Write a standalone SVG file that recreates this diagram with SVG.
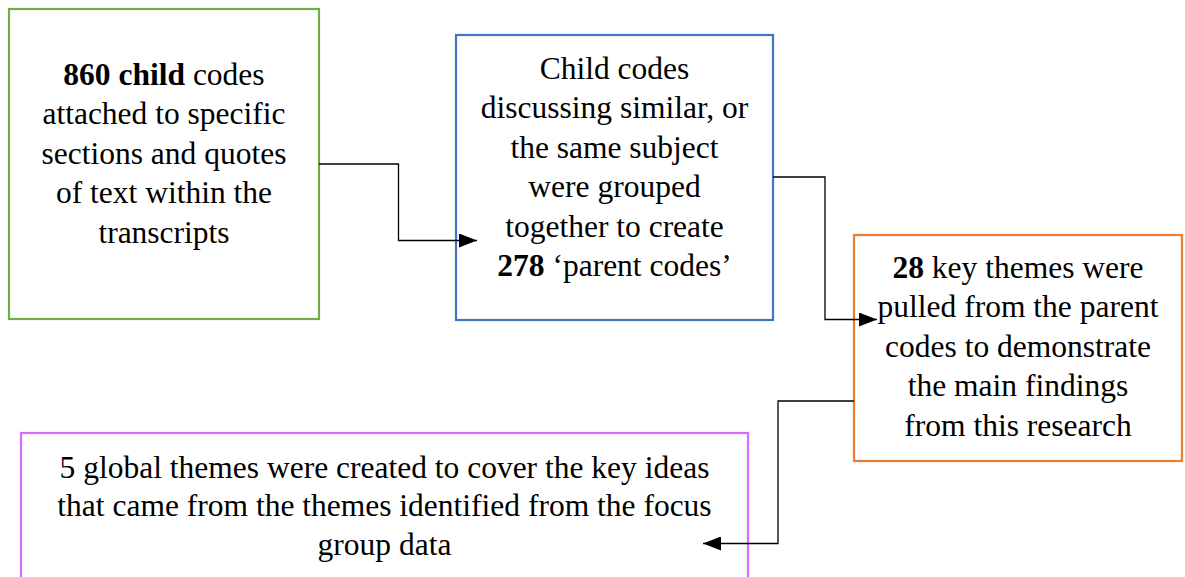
<svg xmlns="http://www.w3.org/2000/svg" width="1185" height="577" viewBox="0 0 1185 577">
  <style>
    .box { fill: #ffffff; stroke-width: 2.2; }
    .t { font-size: 31.5px; fill: #000000; text-anchor: middle; }
    .b { font-weight: bold; }
    .link { fill: none; stroke: #000000; stroke-width: 1.3; }
  </style>
  <defs>
    <marker id="arrow" viewBox="0 0 18 14" refX="18" refY="7" markerWidth="18" markerHeight="14" markerUnits="userSpaceOnUse" orient="auto">
      <path d="M0,0 L18,7 L0,14 z" fill="#000000"/>
    </marker>
  </defs>
  <rect width="1185" height="577" fill="#ffffff"/>

  <g id="node-child-codes">
    <rect class="box" x="9" y="9" width="310" height="310" stroke="#70AD47"/>
    <text class="t" font-family="'Liberation Serif', serif" x="164" y="85"><tspan class="b">860 child</tspan> codes</text>
    <text class="t" font-family="'Liberation Serif', serif" x="164" y="124">attached to specific</text>
    <text class="t" font-family="'Liberation Serif', serif" x="164" y="164">sections and quotes</text>
    <text class="t" font-family="'Liberation Serif', serif" x="164" y="203">of text within the</text>
    <text class="t" font-family="'Liberation Serif', serif" x="164" y="243">transcripts</text>
  </g>

  <g id="node-parent-codes">
    <rect class="box" x="456" y="35" width="317" height="285" stroke="#4472C4"/>
    <text class="t" font-family="'Liberation Serif', serif" x="614.5" y="79">Child codes</text>
    <text class="t" font-family="'Liberation Serif', serif" x="614.5" y="118">discussing similar, or</text>
    <text class="t" font-family="'Liberation Serif', serif" x="614.5" y="158">the same subject</text>
    <text class="t" font-family="'Liberation Serif', serif" x="614.5" y="197">were grouped</text>
    <text class="t" font-family="'Liberation Serif', serif" x="614.5" y="237">together to create</text>
    <text class="t" font-family="'Liberation Serif', serif" x="614.5" y="276"><tspan class="b">278</tspan> ‘parent codes’</text>
  </g>

  <g id="node-key-themes">
    <rect class="box" x="854" y="235" width="328" height="226" stroke="#ED7D31"/>
    <text class="t" font-family="'Liberation Serif', serif" x="1018" y="278"><tspan class="b">28</tspan> key themes were</text>
    <text class="t" font-family="'Liberation Serif', serif" x="1018" y="317">pulled from the parent</text>
    <text class="t" font-family="'Liberation Serif', serif" x="1018" y="357">codes to demonstrate</text>
    <text class="t" font-family="'Liberation Serif', serif" x="1018" y="396">the main findings</text>
    <text class="t" font-family="'Liberation Serif', serif" x="1018" y="436">from this research</text>
  </g>

  <g id="node-global-themes">
    <rect class="box" x="21" y="433" width="727" height="160" stroke="#DA6BFF"/>
    <text class="t" font-family="'Liberation Serif', serif" x="384.5" y="478">5 global themes were created to cover the key ideas</text>
    <text class="t" font-family="'Liberation Serif', serif" x="384.5" y="516">that came from the themes identified from the focus</text>
    <text class="t" font-family="'Liberation Serif', serif" x="384.5" y="555">group data</text>
  </g>

  <g id="connectors">
    <polyline class="link" points="319,164 398.5,164 398.5,240.5 477,240.5" marker-end="url(#arrow)"/>
    <polyline class="link" points="773,177 825,177 825,319.5 877,319.5" marker-end="url(#arrow)"/>
    <polyline class="link" points="854,401 778,401 778,543.5 703,543.5" marker-end="url(#arrow)"/>
  </g>
</svg>
